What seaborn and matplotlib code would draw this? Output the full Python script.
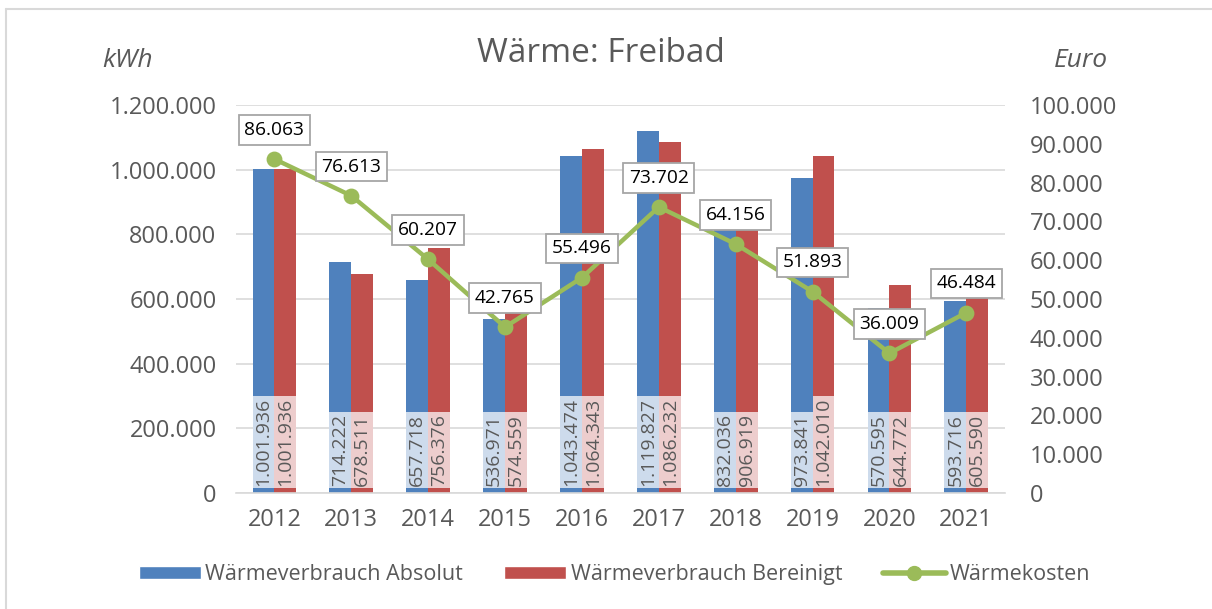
import pandas as pd
import matplotlib
matplotlib.use("Agg")
import matplotlib.pyplot as plt
import seaborn as sns
from matplotlib.patches import Patch
from matplotlib.lines import Line2D

# data
years = ['2012', '2013', '2014', '2015', '2016', '2017', '2018', '2019', '2020', '2021']
absolut = [1001936, 714222, 657718, 536971, 1043474, 1119827, 832036, 973841, 570595, 593716]
bereinigt = [1001936, 678511, 756376, 574559, 1064343, 1086232, 906919, 1042010, 644772, 605590]
kosten = [86063, 76613, 60207, 42765, 55496, 73702, 64156, 51893, 36009, 46484]

blue = '#4F81BD'
red = '#C0504D'
green = '#9BBB59'
gray = '#595959'


def de(v):
    # German thousands separator
    return f"{v:,.0f}".replace(",", ".")


sns.set_theme(style="white")
plt.rcParams['font.family'] = ['Open Sans', 'DejaVu Sans']

df = pd.DataFrame({
    'Jahr': years * 2,
    'kWh': absolut + bereinigt,
    'Reihe': ['Wärmeverbrauch Absolut'] * len(years) + ['Wärmeverbrauch Bereinigt'] * len(years),
})

fig = plt.figure(figsize=(12.12, 6.09), dpi=100)
ax = fig.add_axes([0.1947, 0.1905, 0.6343, 0.6371])

sns.barplot(data=df, x='Jahr', y='kWh', hue='Reihe', palette=[blue, red],
            width=0.57, saturation=1, edgecolor='none', legend=False, ax=ax)

# value labels at the bottom of each bar
for cont in ax.containers:
    for bar, v in zip(cont, cont.datavalues):
        ax.annotate(de(v), (bar.get_x() + bar.get_width() / 2, 0),
                    xytext=(0, 5), textcoords='offset points',
                    rotation=90, ha='center', va='bottom', fontsize=14, color=gray,
                    bbox=dict(boxstyle='square,pad=0.1', fc='white', alpha=0.72, ec='none'))

ax.set_ylim(0, 1200000)
ax.set_yticks(range(0, 1200001, 200000))
ax.set_yticklabels([de(t) for t in range(0, 1200001, 200000)])
ax.yaxis.grid(True, color='#D9D9D9', lw=1.2)
ax.set_axisbelow(True)
ax.set_xlabel('')
ax.set_ylabel('')
for s in ['top', 'left', 'right']:
    ax.spines[s].set_visible(False)
ax.spines['bottom'].set_color('#D9D9D9')
ax.spines['bottom'].set_linewidth(1.2)
ax.tick_params(axis='y', length=0, pad=14, labelsize=17, labelcolor=gray)
ax.tick_params(axis='x', length=0, pad=11, labelsize=17, labelcolor=gray)

# costs on the secondary axis
ax2 = ax.twinx()
sns.pointplot(x=years, y=kosten, color=green, markers='o', linewidth=3.2,
              markersize=9, errorbar=None, ax=ax2)
for i, v in enumerate(kosten):
    ax2.annotate(de(v), (i, v), xytext=(0, 21), textcoords='offset points',
                 ha='center', va='center', fontsize=13.8, color='black',
                 bbox=dict(boxstyle='square,pad=0.3', fc='white', ec='#A6A6A6', lw=1.3))
ax2.set_ylim(0, 100000)
ax2.set_yticks(range(0, 100001, 10000))
ax2.set_yticklabels([de(t) for t in range(0, 100001, 10000)])
ax2.set_ylabel('')
for s in ax2.spines.values():
    s.set_visible(False)
ax2.tick_params(axis='y', length=0, pad=18, labelsize=17, labelcolor=gray)
ax.set_xlim(-0.5, len(years) - 0.5)

fig.text(0.4955, 0.912, 'Wärme: Freibad', fontsize=24, color=gray, ha='center', va='center')
fig.text(0.105, 0.901, 'kWh', fontsize=19, style='italic', color=gray, ha='center', va='center')
fig.text(0.892, 0.901, 'Euro', fontsize=19, style='italic', color=gray, ha='center', va='center')

handles = [
    Patch(facecolor=blue, label='Wärmeverbrauch Absolut'),
    Patch(facecolor=red, label='Wärmeverbrauch Bereinigt'),
    Line2D([0], [0], color=green, lw=4, marker='o', markersize=10, label='Wärmekosten'),
]
leg = fig.legend(handles=handles, loc='center', bbox_to_anchor=(0.507, 0.056), ncol=3,
                 frameon=False, fontsize=15.5, handlelength=2.9, handleheight=0.55,
                 handletextpad=0.2, columnspacing=1.9)
for t in leg.get_texts():
    t.set_color(gray)

# chart border (top and left visible in the reference)
fig.add_artist(Line2D([0.005, 1.0], [0.986, 0.986], transform=fig.transFigure, color='#D9D9D9', lw=1.5))
fig.add_artist(Line2D([0.005, 0.005], [0.0, 0.986], transform=fig.transFigure, color='#D9D9D9', lw=1.5))

fig.savefig('out.png', dpi=100)
